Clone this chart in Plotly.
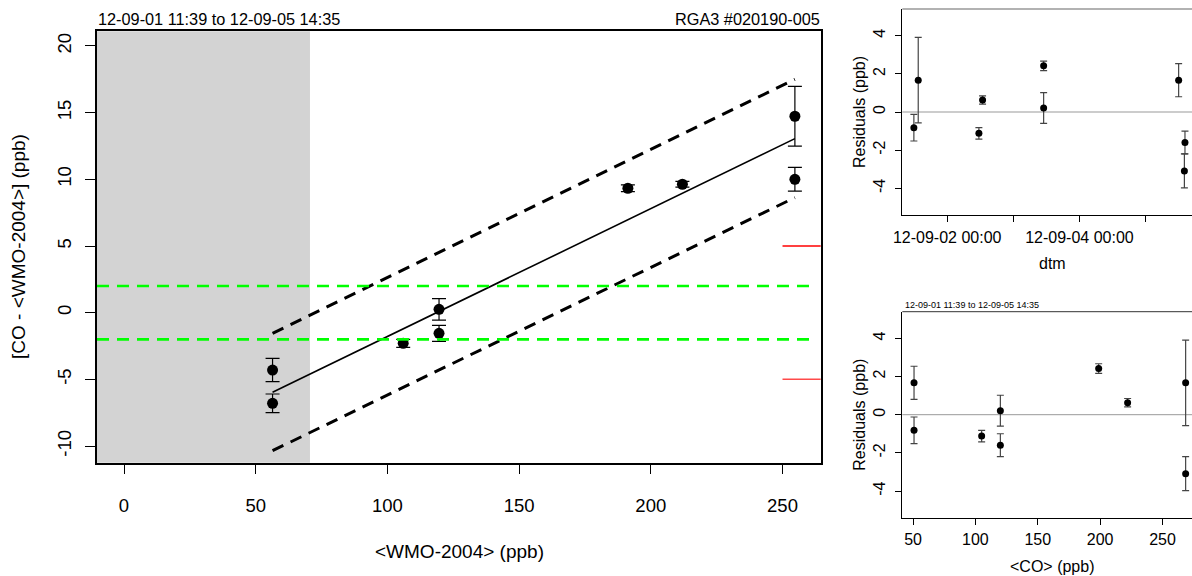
import plotly.graph_objects as go

# ---------------- data ----------------
wmo = [56.4, 56.4, 106.0, 119.6, 119.6, 191.3, 212.0, 254.7, 254.7]
diff = [-4.3, -6.8, -2.3, 0.25, -1.55, 9.33, 9.63, 14.73, 10.0]
err = [0.87, 0.7, 0.3, 0.81, 0.6, 0.25, 0.22, 2.24, 0.89]

fit_x = [56.4, 254.7]
fit_y = [-5.97, 13.05]
band_hi = [-1.55, 17.5]
band_lo = [-10.35, 8.63]

green_limits = [2, -2]
red_limits = [5, -5]
red_start = 250
shade_limit = 70.6

res_time = ["2012-09-05 12:00", "2012-09-01 11:54", "2012-09-02 11:30",
            "2012-09-03 11:00", "2012-09-05 14:18", "2012-09-03 11:00",
            "2012-09-02 12:50", "2012-09-01 13:29", "2012-09-05 14:05"]
co = [50.8, 50.8, 105.0, 120.0, 120.0, 198.8, 222.0, 268.5, 268.5]
residual = [1.67, -0.82, -1.12, 0.21, -1.6, 2.42, 0.63, 1.67, -3.09]

main_xticks = [0, 50, 100, 150, 200, 250]
main_yticks = [-10, -5, 0, 5, 10, 15, 20]
res_yticks = [-4, -2, 0, 2, 4]
dtm_tickvals = ["2012-09-02 00:00", "2012-09-03 00:00", "2012-09-04 00:00", "2012-09-05 00:00"]
dtm_ticktext = ["12-09-02 00:00", "", "12-09-04 00:00", ""]
co_ticks = [50, 100, 150, 200, 250]

title_left = "12-09-01 11:39 to 12-09-05 14:35"
title_right = "RGA3 #020190-005"

FONT = "Liberation Sans, Arial, Helvetica, sans-serif"
W, H = 1192, 576


def lab(vals):
    return [str(v) for v in vals]  # plain hyphen-minus like R


fig = go.Figure()

# ---------------- main panel ----------------
fig.add_trace(go.Scatter(x=fit_x, y=band_hi, mode="lines", xaxis="x", yaxis="y",
                         line=dict(color="black", width=3, dash="12px,8px"), showlegend=False))
fig.add_trace(go.Scatter(x=fit_x, y=band_lo, mode="lines", xaxis="x", yaxis="y",
                         line=dict(color="black", width=3, dash="12px,8px"), showlegend=False))
fig.add_trace(go.Scatter(x=fit_x, y=fit_y, mode="lines", xaxis="x", yaxis="y",
                         line=dict(color="black", width=1.6), showlegend=False))
fig.add_trace(go.Scatter(x=wmo, y=diff, mode="markers", xaxis="x", yaxis="y",
                         marker=dict(color="black", size=11),
                         error_y=dict(type="data", array=err, color="black", thickness=1.2, width=7),
                         showlegend=False))

# ---------------- residuals vs time ----------------
fig.add_trace(go.Scatter(x=res_time, y=residual, mode="markers", xaxis="x2", yaxis="y2",
                         marker=dict(color="black", size=7),
                         error_y=dict(type="data", array=err, color="#444444", thickness=1.2, width=3.5),
                         showlegend=False))

# ---------------- residuals vs CO ----------------
fig.add_trace(go.Scatter(x=co, y=residual, mode="markers", xaxis="x3", yaxis="y3",
                         marker=dict(color="black", size=7),
                         error_y=dict(type="data", array=err, color="#444444", thickness=1.2, width=3.5),
                         showlegend=False))

shapes = []
# gray shaded region
shapes.append(dict(type="rect", xref="x", yref="y domain", x0=-10.25, x1=shade_limit, y0=0, y1=1,
                   fillcolor="#d3d3d3", line=dict(width=0), layer="below"))
for g in green_limits:
    shapes.append(dict(type="line", xref="x domain", yref="y", x0=0, x1=0.99, y0=g, y1=g,
                       line=dict(color="#00ff00", width=2.6, dash="12px,8px")))
red_cols = ["#ff0000", "#ff4a4a"]
for r, c in zip(red_limits, red_cols):
    shapes.append(dict(type="line", xref="x", yref="y", x0=red_start, x1=265.3, y0=r, y1=r,
                       line=dict(color=c, width=1.5)))
# zero lines in residual panels
shapes.append(dict(type="line", xref="x2 domain", yref="y2", x0=0, x1=1, y0=0, y1=0,
                   line=dict(color="#cccccc", width=2), layer="below"))
shapes.append(dict(type="line", xref="x3 domain", yref="y3", x0=0, x1=1, y0=0, y1=0,
                   line=dict(color="#999999", width=1), layer="below"))
# gray top borders of residual panels
shapes.append(dict(type="line", xref="x2 domain", yref="y2 domain", x0=0, x1=1, y0=1, y1=1,
                   line=dict(color="#666666", width=1.2)))
shapes.append(dict(type="line", xref="x3 domain", yref="y3 domain", x0=0, x1=1, y0=1, y1=1,
                   line=dict(color="#333333", width=1)))

ax_common = dict(showgrid=False, zeroline=False, ticks="outside", tickcolor="black",
                 linecolor="black", showline=True, automargin=False)

main_x_dom = [97 / W, 820.7 / W]
main_y_dom = [1 - 462.7 / H, 1 - 31.3 / H]
tr_y_dom = [1 - 215 / H, 1 - 9 / H]
br_y_dom = [1 - 517.7 / H, 1 - 311.7 / H]
r_x_dom = [902.3 / W, 1.0]

fig.update_layout(
    width=W, height=H, margin=dict(l=0, r=0, t=0, b=0, pad=0, autoexpand=False),
    paper_bgcolor="white", plot_bgcolor="white",
    font=dict(family=FONT, color="black"),
    shapes=shapes, hovermode=False,
    xaxis=dict(ax_common, domain=main_x_dom, range=[-10.25, 264.5], tickvals=main_xticks,
               ticktext=lab(main_xticks),
               ticklen=10, tickwidth=1.3, linewidth=1.5, mirror=True, anchor="y",
               tickfont=dict(size=18.5), ticklabelstandoff=15),
    yaxis=dict(ax_common, domain=main_y_dom, range=[-11.25, 21.1], tickvals=main_yticks,
               ticktext=lab(main_yticks),
               ticklen=10, tickwidth=1.3, linewidth=1.5, mirror=True, anchor="x",
               tickangle=-90, tickfont=dict(size=18.5), ticklabelstandoff=7),
    xaxis2=dict(ax_common, domain=r_x_dom, type="date",
                range=["2012-09-01 07:42", "2012-09-05 16:51"],
                tickvals=dtm_tickvals, ticktext=dtm_ticktext, ticklen=6, linewidth=1,
                anchor="y2", tickfont=dict(size=16), ticklabelstandoff=2),
    yaxis2=dict(ax_common, domain=tr_y_dom, range=[-5.4, 5.4], tickvals=res_yticks,
                ticktext=lab(res_yticks),
                ticklen=6, linewidth=1, anchor="x2", tickangle=-90,
                tickfont=dict(size=16), ticklabelstandoff=4),
    xaxis3=dict(ax_common, domain=r_x_dom, range=[41.4, 273.6], tickvals=co_ticks,
                ticktext=lab(co_ticks),
                ticklen=6, linewidth=1, anchor="y3",
                tickfont=dict(size=16), ticklabelstandoff=1),
    yaxis3=dict(ax_common, domain=br_y_dom, range=[-5.4, 5.4], tickvals=res_yticks,
                ticktext=lab(res_yticks),
                ticklen=6, linewidth=1, anchor="x3", tickangle=-90,
                tickfont=dict(size=16), ticklabelstandoff=4),
)

ann = [
    dict(text=title_left, x=96 / W, y=1 - 19 / H, xanchor="left", yanchor="middle", font=dict(size=16.3)),
    dict(text=title_right, x=821.5 / W, y=1 - 19 / H, xanchor="right", yanchor="middle", font=dict(size=16.3)),
    dict(text="[CO - &lt;WMO-2004&gt;] (ppb)", x=18 / W, y=1 - 247 / H, textangle=-90,
         xanchor="center", yanchor="middle", font=dict(size=19)),
    dict(text="&lt;WMO-2004&gt; (ppb)", x=459 / W, y=1 - 551 / H, xanchor="center", yanchor="middle",
         font=dict(size=19)),
    dict(text="Residuals (ppb)", x=860 / W, y=1 - 112 / H, textangle=-90,
         xanchor="center", yanchor="middle", font=dict(size=16)),
    dict(text="dtm", x=1052 / W, y=1 - 263 / H, xanchor="center", yanchor="middle", font=dict(size=16)),
    dict(text="Residuals (ppb)", x=860 / W, y=1 - 414.7 / H, textangle=-90,
         xanchor="center", yanchor="middle", font=dict(size=16)),
    dict(text="&lt;CO&gt; (ppb)", x=1052 / W, y=1 - 566 / H, xanchor="center", yanchor="middle",
         font=dict(size=16)),
    dict(text=title_left, x=902.5 / W, y=1 - 305 / H, xanchor="left", yanchor="middle", font=dict(size=9)),
]
for a in ann:
    a.update(xref="paper", yref="paper", showarrow=False)
fig.update_layout(annotations=ann)

fig.write_html("out.html", config={"displayModeBar": False},
               post_script="document.body.style.margin='0px';document.body.style.overflow='hidden';")
